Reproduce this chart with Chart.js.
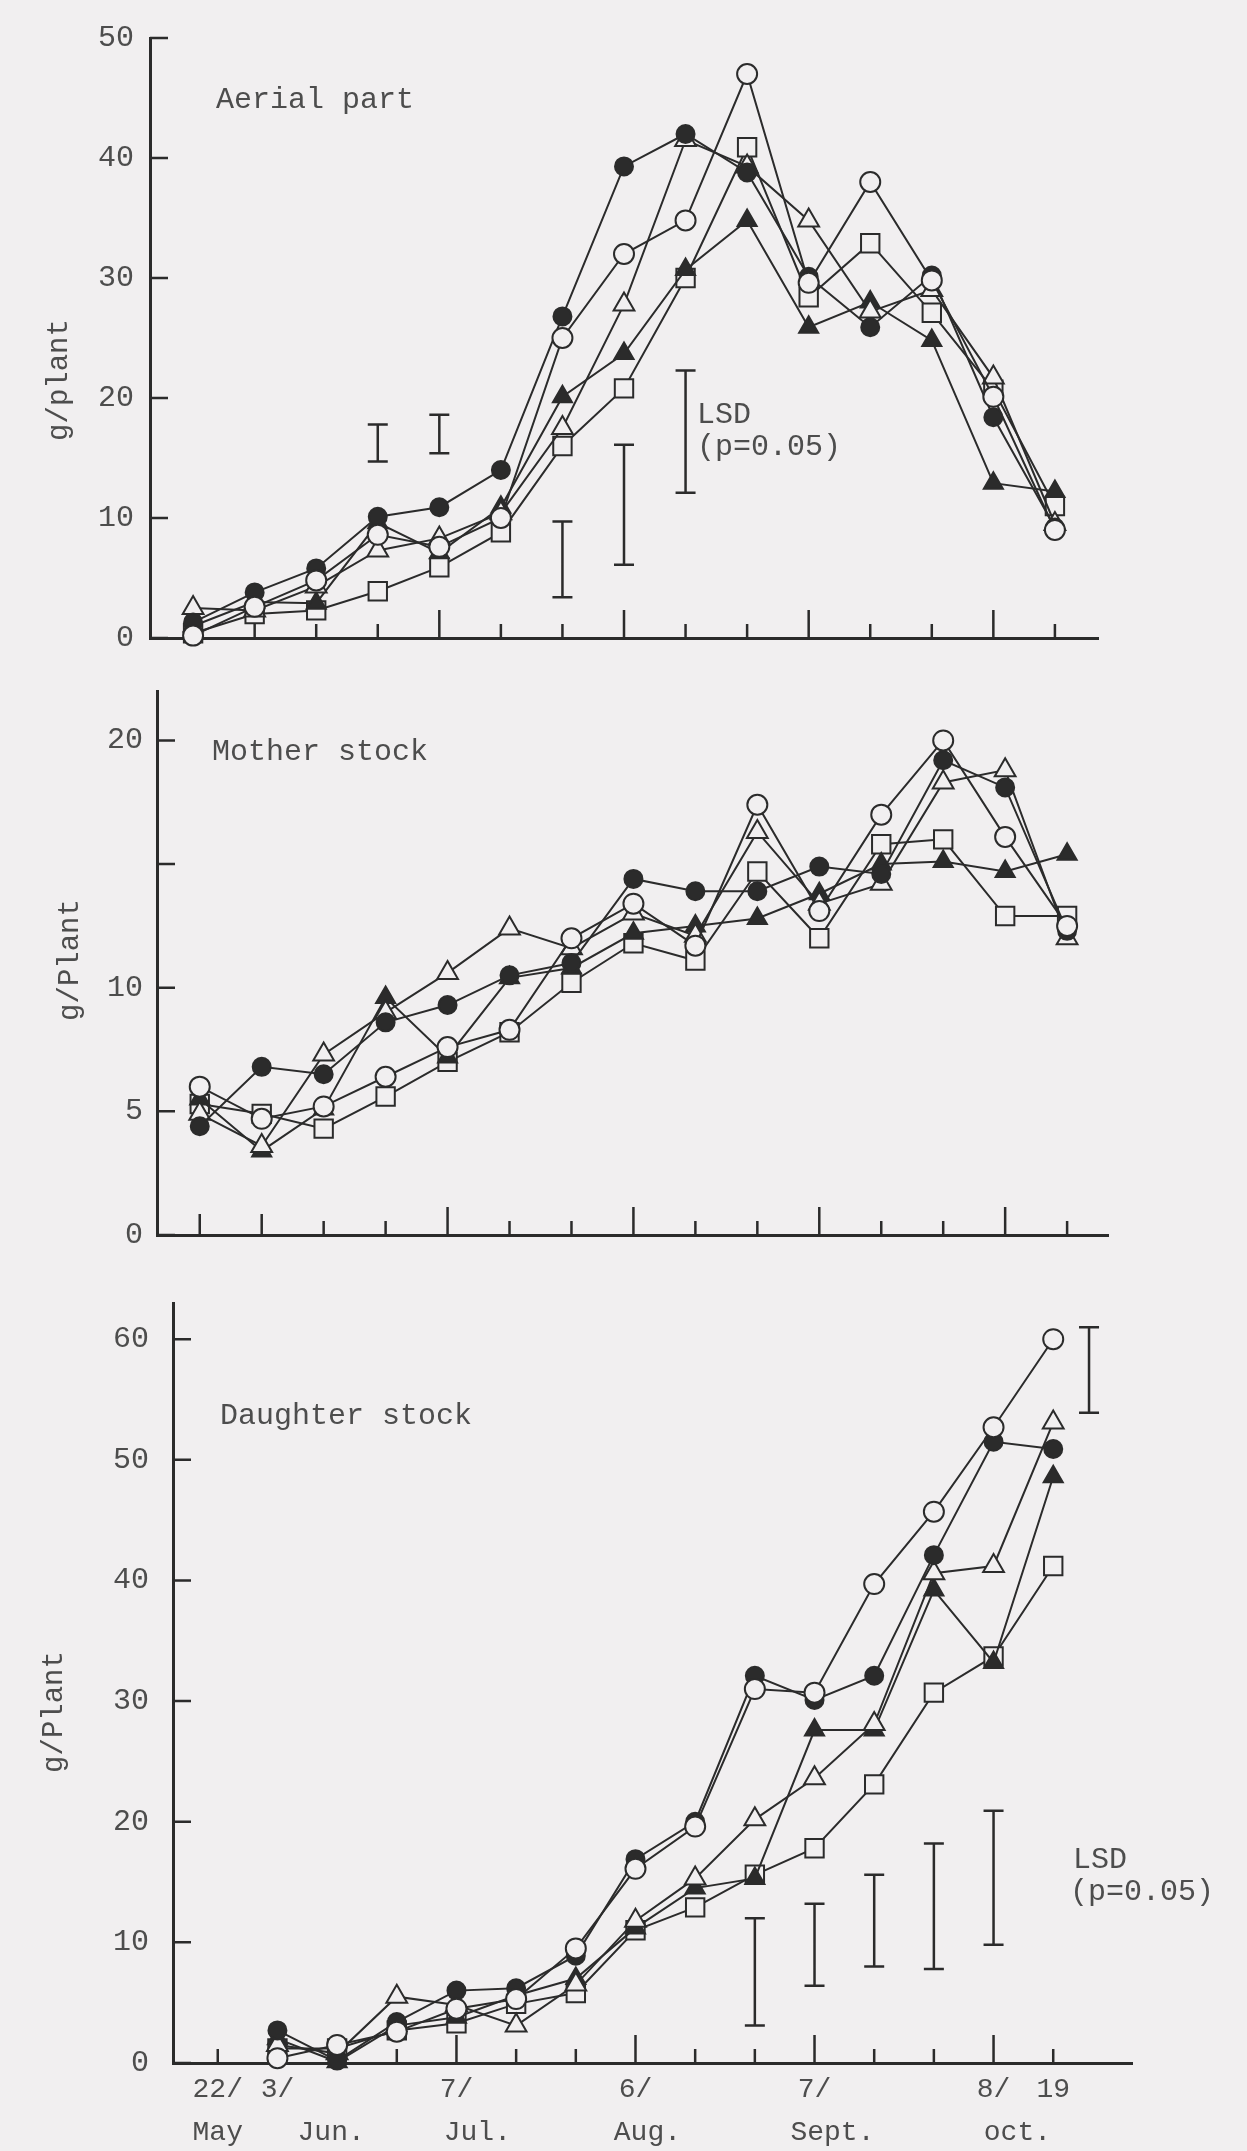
<!DOCTYPE html>
<html>
<head>
<meta charset="utf-8">
<script src="https://cdn.jsdelivr.net/npm/chart.js@4.4.1/dist/chart.umd.min.js"></script>
<style>
  html, body { margin: 0; padding: 0; background: #f1eff0; overflow: hidden; }
  body { width: 1247px; height: 2151px; position: relative; }
  canvas { position: absolute; left: 0; }
</style>
</head>
<body>
<canvas id="aerial" width="1247" height="740" style="top:-40px"></canvas>
<canvas id="mother" width="1247" height="680" style="top:620px"></canvas>
<canvas id="daughter" width="1247" height="920" style="top:1240px"></canvas>
<script>
// sampling dates, 22 May .. 19 Oct (index on the x axis)
var sampleIdx = [0, 1, 2, 3, 4, 5, 6, 7, 8, 9, 10, 11, 12, 13, 14];
var dateTickIdx = [0, 1, 4, 7, 10, 13, 14];
var dateTickText = ["22/", "3/", "7/", "6/", "7/", "8/", "19"];
var monthTickPos = [0, 1.9, 4.35, 7.2, 10.3, 13.4];
var monthTickText = ["May", "Jun.", "Jul.", "Aug.", "Sept.", "oct."];

// Aerial part (g/plant)       order: open circle, filled circle, open triangle, filled triangle, open square
var aerialOpenCircle = [0.2, 2.6, 4.8, 8.6, 7.6, 10.0, 25.0, 32.0, 34.8, 47.0, 29.6, 38.0, 29.8, 20.1, 9.0];
var aerialFilledCircle = [1.3, 3.8, 5.8, 10.1, 10.9, 14.0, 26.8, 39.3, 42.0, 38.8, 30.1, 25.9, 30.2, 18.4, 9.2];
var aerialOpenTri = [2.5, 2.3, 4.3, 7.3, 8.3, 10.4, 17.5, 27.8, 41.5, 39.3, 34.8, 27.2, 29.0, 21.7, 9.5];
var aerialFilledTri = [1.0, 3.0, 2.9, 9.6, 7.1, 10.9, 20.1, 23.7, 30.7, 34.8, 25.9, 28.0, 24.8, 12.9, 12.2];
var aerialOpenSquare = [0.4, 2.0, 2.3, 3.9, 5.9, 8.8, 16.0, 20.8, 30.0, 40.9, 28.4, 32.9, 27.1, 20.7, 11.0];
var aerialLsdIdx = [3, 4, 6, 7, 8];
var aerialLsdLow = [14.7, 15.4, 3.4, 6.1, 12.1];
var aerialLsdHigh = [17.8, 18.6, 9.7, 16.1, 22.3];

// Mother stock (g/Plant)
var motherOpenCircle = [6.0, 4.7, 5.2, 6.4, 7.6, 8.3, 12.0, 13.4, 11.7, 17.4, 13.1, 17.0, 20.0, 16.1, 12.5];
var motherFilledCircle = [4.4, 6.8, 6.5, 8.6, 9.3, 10.5, 11.0, 14.4, 13.9, 13.9, 14.9, 14.6, 19.2, 18.1, 12.3];
var motherOpenTri = [4.9, 3.6, 7.3, 9.0, 10.6, 12.4, 11.6, 13.0, 12.1, 16.3, 13.4, 14.2, 18.3, 18.8, 12.0];
var motherFilledTri = [5.5, 3.4, 5.1, 9.6, 7.2, 10.4, 10.8, 12.2, 12.5, 12.8, 13.8, 15.0, 15.1, 14.7, 15.4];
var motherOpenSquare = [5.3, 4.9, 4.3, 5.6, 7.0, 8.2, 10.2, 11.8, 11.1, 14.7, 12.0, 15.8, 16.0, 12.9, 12.9];
var motherTickText = ["0", "5", "10", "", "20"];

// Daughter stock (g/Plant), no sample on 22 May
var daughterOpenCircle = [null, 0.4, 1.5, 2.6, 4.5, 5.3, 9.5, 16.1, 19.6, 31.0, 30.7, 39.7, 45.7, 52.7, 60.0];
var daughterFilledCircle = [null, 2.7, 0.2, 3.4, 6.0, 6.2, 8.9, 16.9, 20.0, 32.1, 30.1, 32.1, 42.1, 51.5, 50.9];
var daughterOpenTri = [null, 1.5, 0.8, 5.5, 4.8, 3.1, 6.5, 11.8, 15.3, 20.2, 23.6, 28.1, 40.6, 41.2, 53.1];
var daughterFilledTri = [null, 2.0, 0.1, 3.1, 3.8, 5.6, 7.0, 11.2, 14.5, 15.3, 27.6, 27.6, 39.2, 33.2, 48.6];
var daughterOpenSquare = [null, 1.2, 1.2, 2.7, 3.3, 4.9, 5.8, 11.0, 12.9, 15.6, 17.8, 23.1, 30.7, 33.7, 41.2];
var daughterLsdIdx = [9, 10, 11, 12, 13, 14.6];
var daughterLsdLow = [3.1, 6.4, 8.0, 7.8, 9.8, 53.9];
var daughterLsdHigh = [12.0, 13.2, 15.6, 18.2, 20.9, 61.0];

var INK = "#2b2b2b";
var TEXT = "#4d4d4d";
var PAPER = "#f1eff0";
var MONO = '"Liberation Mono", "DejaVu Sans Mono", monospace';

var markers = [
  { label: "open circle", style: "circle", r: 10, fill: PAPER },
  { label: "filled circle", style: "circle", r: 9, fill: INK },
  { label: "open triangle", style: "triangle", r: 12, fill: PAPER },
  { label: "filled triangle", style: "triangle", r: 11, fill: INK },
  { label: "open square", style: "rect", r: 13, fill: PAPER }
];

function makeDatasets(series) {
  var sets = [];
  for (var s = 0; s < series.length; s++) {
    var pts = [];
    for (var i = 0; i < sampleIdx.length; i++) {
      if (series[s][i] !== null) pts.push({ x: sampleIdx[i], y: series[s][i] });
    }
    sets.push({
      label: markers[s].label,
      data: pts,
      borderColor: INK,
      borderWidth: 2,
      pointStyle: markers[s].style,
      pointRadius: markers[s].r,
      pointBackgroundColor: markers[s].fill,
      pointBorderColor: INK,
      pointBorderWidth: 2,
      tension: 0,
      fill: false,
      clip: false
    });
  }
  return sets;
}

// ticks drawn inward, LSD bars and free labels
var decor = {
  id: "decor",
  beforeDatasetsDraw: function (chart, args, o) {
    var ctx = chart.ctx, xs = chart.scales.x, ys = chart.scales.y, a = chart.chartArea;
    ctx.save();
    ctx.strokeStyle = INK;
    ctx.lineWidth = 2.5;
    ctx.beginPath();
    ys.ticks.forEach(function (t) {
      var py = ys.getPixelForValue(t.value);
      ctx.moveTo(a.left, py);
      ctx.lineTo(a.left + 18, py);
    });
    for (var i = 0; i < sampleIdx.length; i++) {
      var px = xs.getPixelForValue(sampleIdx[i]);
      var len = o.major.indexOf(i) >= 0 ? 28 : (o.mid.indexOf(i) >= 0 ? 21 : 14);
      ctx.moveTo(px, a.bottom);
      ctx.lineTo(px, a.bottom - len);
    }
    ctx.stroke();
    if (o.lsd) {
      ctx.beginPath();
      for (var k = 0; k < o.lsd.idx.length; k++) {
        var bx = xs.getPixelForValue(o.lsd.idx[k]);
        var y1 = ys.getPixelForValue(o.lsd.low[k]);
        var y2 = ys.getPixelForValue(o.lsd.high[k]);
        ctx.moveTo(bx, y1); ctx.lineTo(bx, y2);
        ctx.moveTo(bx - 10, y1); ctx.lineTo(bx + 10, y1);
        ctx.moveTo(bx - 10, y2); ctx.lineTo(bx + 10, y2);
      }
      ctx.stroke();
    }
    ctx.fillStyle = TEXT;
    ctx.textBaseline = "middle";
    o.texts.forEach(function (t) {
      ctx.save();
      ctx.font = (t.size || 30) + "px " + MONO;
      ctx.translate(t.x, t.y);
      if (t.rot) {
        ctx.rotate(-Math.PI / 2);
        ctx.textAlign = "center";
      } else {
        ctx.textAlign = "left";
      }
      ctx.fillText(t.text, 0, 0);
      ctx.restore();
    });
    ctx.restore();
  }
};

function fixWidth(w) { return function (scale) { scale.width = w; }; }
function fixHeight(h) { return function (scale) { scale.height = h; }; }

function buildChart(id, series, cfg) {
  var scales = {
    x: {
      type: "linear",
      min: cfg.xMin,
      max: cfg.xMax,
      grid: { display: false, drawTicks: false },
      border: { display: true, color: INK, width: 3 },
      ticks: { display: false },
      afterFit: fixHeight(cfg.xHeight || 0)
    },
    y: {
      type: "linear",
      min: 0,
      max: cfg.yMax,
      grid: { display: false, drawTicks: false },
      border: { display: true, color: INK, width: 3 },
      ticks: {
        stepSize: cfg.yStep,
        includeBounds: false,
        padding: cfg.tickPad,
        color: TEXT,
        font: { family: MONO, size: 30 },
        callback: cfg.yLabel || function (v) { return String(v); }
      },
      afterFit: fixWidth(cfg.yWidth)
    }
  };
  if (cfg.dates) {
    scales.x.weight = 0;
    scales.x.ticks = {
      display: true,
      autoSkip: false,
      maxRotation: 0,
      padding: 10,
      color: TEXT,
      font: { family: MONO, size: 28 },
      callback: function (v) {
        var k = dateTickIdx.indexOf(v);
        return k >= 0 ? dateTickText[k] : "";
      }
    };
    scales.x.afterBuildTicks = function (axis) {
      axis.ticks = dateTickIdx.map(function (v) { return { value: v }; });
    };
    scales.x2 = {
      type: "linear",
      position: "bottom",
      weight: 1,
      display: true,
      min: cfg.xMin,
      max: cfg.xMax,
      grid: { display: false, drawTicks: false },
      border: { display: false },
      ticks: {
        autoSkip: false,
        maxRotation: 0,
        padding: 13,
        color: TEXT,
        font: { family: MONO, size: 28 },
        callback: function (v) {
          var k = monthTickPos.indexOf(v);
          return k >= 0 ? monthTickText[k] : "";
        }
      },
      afterBuildTicks: function (axis) {
        axis.ticks = monthTickPos.map(function (v) { return { value: v }; });
      },
      afterFit: fixHeight(48)
    };
  }
  return new Chart(document.getElementById(id).getContext("2d"), {
    type: "line",
    data: { datasets: makeDatasets(series) },
    options: {
      responsive: false,
      animation: false,
      devicePixelRatio: 1,
      layout: { autoPadding: false, padding: cfg.padding },
      scales: scales,
      plugins: {
        legend: { display: false },
        tooltip: { enabled: false },
        decor: { major: [4, 7, 10, 13], mid: cfg.mid || [], lsd: cfg.lsd, texts: cfg.texts }
      }
    },
    plugins: [decor]
  });
}

buildChart("aerial",
  [aerialOpenCircle, aerialFilledCircle, aerialOpenTri, aerialFilledTri, aerialOpenSquare],
  {
    xMin: -0.7, xMax: 14.7, yMax: 50, yStep: 10, tickPad: 16, yWidth: 120,
    padding: { left: 30, right: 149, top: 78, bottom: 62 },
    lsd: { idx: aerialLsdIdx, low: aerialLsdLow, high: aerialLsdHigh },
    texts: [
      { text: "Aerial part", x: 216, y: 140 },
      { text: "LSD", x: 697, y: 455 },
      { text: "(p=0.05)", x: 697, y: 487 },
      { text: "g/plant", x: 59, y: 420, rot: true, size: 29 }
    ]
  });

buildChart("mother",
  [motherOpenCircle, motherFilledCircle, motherOpenTri, motherFilledTri, motherOpenSquare],
  {
    xMin: -0.69, xMax: 14.66, yMax: 22, yStep: 5, tickPad: 14, yWidth: 127,
    padding: { left: 30, right: 139, top: 71, bottom: 65 },
    mid: [0, 1],
    yLabel: function (v) { return motherTickText[v / 5]; },
    texts: [
      { text: "Mother stock", x: 212, y: 132 },
      { text: "g/Plant", x: 70, y: 340, rot: true, size: 29 }
    ]
  });

buildChart("daughter",
  [daughterOpenCircle, daughterFilledCircle, daughterOpenTri, daughterFilledTri, daughterOpenSquare],
  {
    xMin: -0.75, xMax: 15.32, yMax: 63, yStep: 10, tickPad: 24, yWidth: 143,
    padding: { left: 30, right: 115, top: 63, bottom: 9 },
    xHeight: 40,
    dates: true,
    lsd: { idx: daughterLsdIdx, low: daughterLsdLow, high: daughterLsdHigh },
    texts: [
      { text: "Daughter stock", x: 220, y: 176 },
      { text: "LSD", x: 1073, y: 620 },
      { text: "(p=0.05)", x: 1070, y: 652 },
      { text: "g/Plant", x: 54, y: 472, rot: true, size: 29 }
    ]
  });
</script>
</body>
</html>
